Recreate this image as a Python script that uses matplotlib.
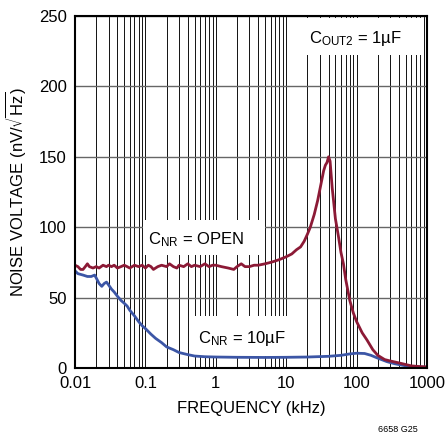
import matplotlib
matplotlib.use("Agg")
import matplotlib.pyplot as plt
from matplotlib.patches import Rectangle
from matplotlib.ticker import LogLocator, NullFormatter, FixedLocator

plt.rcParams['font.family'] = ['Liberation Sans', 'DejaVu Sans']
plt.rcParams['mathtext.default'] = 'regular'

# Data (frequency in kHz, noise in nV/rtHz)
freq_open = [0.01, 0.011, 0.012, 0.013, 0.014, 0.015, 0.016, 0.018, 0.02, 0.022, 0.025, 0.028,
             0.03, 0.033, 0.036, 0.04, 0.045, 0.05, 0.055, 0.06, 0.07, 0.08, 0.09, 0.1, 0.11,
             0.12, 0.13, 0.15, 0.17, 0.2, 0.22, 0.25, 0.28, 0.3, 0.35, 0.4, 0.45, 0.5, 0.6, 0.7,
             0.8, 0.9, 1, 1.2, 1.5, 1.8, 2, 2.3, 2.6, 3, 3.5, 4, 5, 6, 7, 8, 10, 12, 14, 16, 18,
             20, 22, 25, 28, 31, 34, 36, 38, 40, 42, 45, 47, 50, 55, 60, 65, 70, 80, 90, 100,
             120, 140, 170, 200, 250, 300, 370, 450, 600, 800, 1000]
noise_open = [73, 72, 70, 70, 72, 74, 72, 71, 72, 71, 73, 72,
              73, 72, 73, 71, 72, 73, 72, 71, 73, 72, 73, 71, 73,
              72, 70, 72, 73, 72, 74, 72, 71, 73, 72, 74, 72, 73, 72, 74,
              72, 73, 73, 72, 71, 70, 72, 74, 72, 72, 73, 73, 74, 75, 76, 77, 79, 81, 84, 86, 90,
              95, 100, 109, 119, 130, 140, 144, 146, 150, 147, 128, 119, 106, 94, 82, 74, 63, 48, 39, 33,
              25, 20, 13, 9, 6, 5, 4, 3, 1.5, 1, 0.8]

freq_10u = [0.01, 0.011, 0.013, 0.015, 0.017, 0.019, 0.02, 0.022, 0.024, 0.026, 0.028, 0.03,
            0.033, 0.036, 0.04, 0.045, 0.05, 0.055, 0.06, 0.07, 0.08, 0.09, 0.1, 0.12, 0.14,
            0.17, 0.2, 0.25, 0.3, 0.4, 0.5, 0.7, 1, 2, 5, 10, 20, 40, 60, 80, 100, 130, 160,
            200, 270, 350, 500, 700, 1000]
noise_10u = [69, 67, 66, 65, 65, 66, 64, 60, 58, 60, 61, 59,
             56, 54, 51, 48, 46, 44, 41, 37, 33, 30, 28, 24, 21,
             18, 15, 13, 11, 9.5, 8.5, 8, 7.8, 7.6, 7.5, 7.6, 7.8, 8.3, 9, 10, 10.5, 10.3, 9,
             7, 4.5, 3, 1.5, 0.8, 0.5]

xtick_vals = [0.01, 0.1, 1, 10, 100, 1000]
xtick_labels = ['0.01', '0.1', '1', '10', '100', '1000']
ytick_vals = [0, 50, 100, 150, 200, 250]

red = '#8C1A36'
blue = '#3C56A6'
FS = 12

fig = plt.figure(figsize=(4.45, 4.34), dpi=100)
ax = fig.add_axes([75/445, 1-368/434, 352/445, 352/434])

ax.set_xscale('log')
ax.set_xlim(0.01, 1000)
ax.set_ylim(0, 250)

ax.xaxis.set_major_locator(FixedLocator(xtick_vals))
ax.set_xticklabels(xtick_labels)
ax.xaxis.set_minor_locator(LogLocator(base=10, subs=range(2, 10), numticks=100))
ax.xaxis.set_minor_formatter(NullFormatter())
ax.set_yticks(ytick_vals)

ax.grid(True, which='both', axis='x', color='#111111', linewidth=0.7, zorder=1)
ax.grid(True, which='major', axis='y', color='#666666', linewidth=1.0, zorder=1)
ax.tick_params(which='both', length=0, labelsize=FS, pad=6)

for s in ax.spines.values():
    s.set_linewidth(1.5)
    s.set_color('black')
    s.set_zorder(5)

# label boxes
for (x0, y0, x1, y1) in [(143, 220, 265, 255), (300, 18, 422, 55), (189, 316, 288, 356)]:
    ax.add_patch(Rectangle(((x0-75)/352, (368-y1)/352), (x1-x0)/352, (y1-y0)/352,
                           transform=ax.transAxes, facecolor='white', edgecolor='none', zorder=2))

ax.plot(freq_10u, noise_10u, color=blue, linewidth=2.0, zorder=3)
ax.plot(freq_open, noise_open, color=red, linewidth=2.0, zorder=4)

ax.text((148-75)/352, (368-240)/352, r'C$_{NR}$ = OPEN', transform=ax.transAxes,
        ha='left', va='center', fontsize=FS, zorder=6)
ax.text((309-75)/352, (368-38)/352, r'C$_{OUT2}$ = 1µF', transform=ax.transAxes,
        ha='left', va='center', fontsize=FS, zorder=6)
ax.text((198-75)/352, (368-338)/352, r'C$_{NR}$ = 10µF', transform=ax.transAxes,
        ha='left', va='center', fontsize=FS, zorder=6)

ax.set_xlabel('FREQUENCY (kHz)', fontsize=FS, labelpad=7)
ax.set_ylabel(r'NOISE VOLTAGE (nV/$\sqrt{Hz}$)', fontsize=FS, labelpad=8)

fig.text(398/445, 1-430/434, '6658 G25', fontsize=6.5, ha='center', va='center')

fig.savefig('out.png', dpi=100)
